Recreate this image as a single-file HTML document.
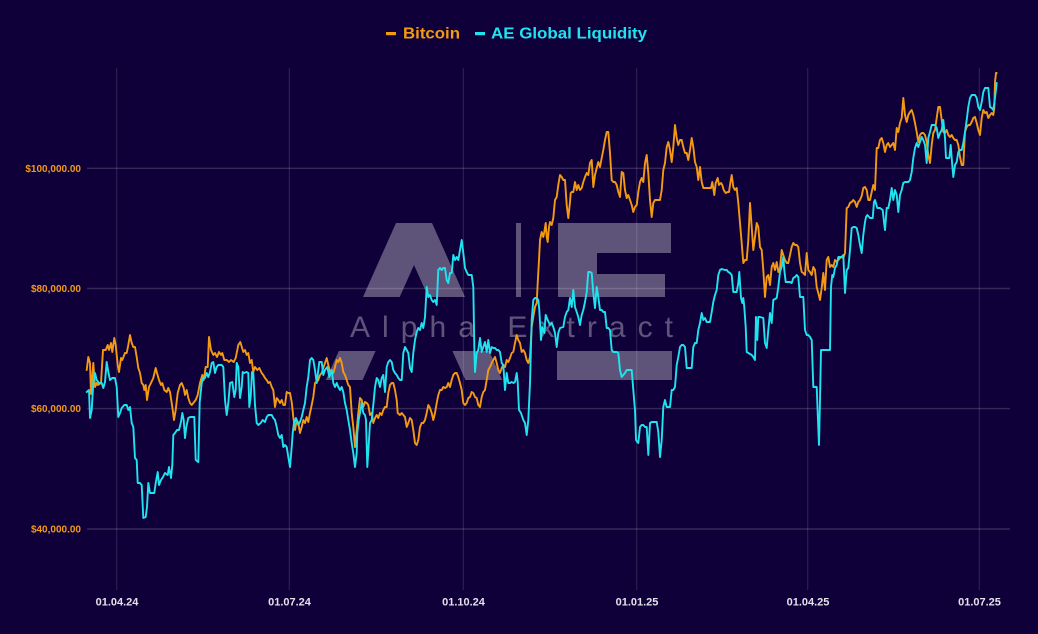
<!DOCTYPE html>
<html>
<head>
<meta charset="utf-8">
<style>
  html,body{margin:0;padding:0;background:#10003a;}
  body{width:1038px;height:634px;overflow:hidden;}
  svg{display:block;}
  text{font-family:"Liberation Sans",Arial,sans-serif;}
</style>
</head>
<body>
<svg width="1038" height="634" viewBox="0 0 1038 634" xmlns="http://www.w3.org/2000/svg">
  <rect x="0" y="0" width="1038" height="634" fill="#10003a"/>

  <!-- legend -->
  <rect x="386" y="32" width="10" height="3.2" fill="#f39a12"/>
  <text x="403" y="38.5" font-size="16" font-weight="bold" fill="#f39a12" textLength="57" lengthAdjust="spacingAndGlyphs">Bitcoin</text>
  <rect x="475" y="32" width="10" height="3.2" fill="#1fe3ef"/>
  <text x="491" y="38.5" font-size="16" font-weight="bold" fill="#1fe3ef" textLength="156" lengthAdjust="spacingAndGlyphs">AE Global Liquidity</text>

  <!-- grid -->
  <g stroke="#ffffff" stroke-opacity="0.16" stroke-width="1.4" fill="none">
    <line x1="87" y1="168.3" x2="1010" y2="168.3"/>
    <line x1="87" y1="288.5" x2="1010" y2="288.5"/>
    <line x1="87" y1="408.6" x2="1010" y2="408.6"/>
    <line x1="87" y1="529" x2="1010" y2="529"/>
  </g>
  <g stroke="#ffffff" stroke-opacity="0.13" stroke-width="1.1" fill="none">
    <line x1="116.7" y1="68" x2="116.7" y2="590"/>
    <line x1="289.3" y1="68" x2="289.3" y2="590"/>
    <line x1="463.3" y1="68" x2="463.3" y2="590"/>
    <line x1="636.7" y1="68" x2="636.7" y2="590"/>
    <line x1="807.7" y1="68" x2="807.7" y2="590"/>
    <line x1="979.3" y1="68" x2="979.3" y2="590"/>
  </g>

  <!-- y labels -->
  <g font-size="10" font-weight="bold" fill="#f39a12" text-anchor="end">
    <text x="81" y="171.8">$100,000.00</text>
    <text x="81" y="292">$80,000.00</text>
    <text x="81" y="412.1">$60,000.00</text>
    <text x="81" y="532.5">$40,000.00</text>
  </g>

  <!-- x labels -->
  <g font-size="11" font-weight="bold" fill="#e2e2ea" text-anchor="middle">
    <text x="117" y="605.5">01.04.24</text>
    <text x="289.5" y="605.5">01.07.24</text>
    <text x="463.5" y="605.5">01.10.24</text>
    <text x="637" y="605.5">01.01.25</text>
    <text x="808" y="605.5">01.04.25</text>
    <text x="979.5" y="605.5">01.07.25</text>
  </g>

  <!-- watermark -->
  <g fill="#ffffff" fill-opacity="0.33">
    <path fill-rule="evenodd" d="M363,297 L396,223 L432,223 L465,297 Z M399.7,297 L414,265 L428.3,297 Z"/>
    <path d="M338.8,351 L375.6,351 L362.6,380 L325.8,380 Z"/>
    <path d="M452.4,351 L489.2,351 L502.2,380 L465.4,380 Z"/>
    <rect x="516" y="223" width="5" height="74"/>
    <path d="M558,223 H671 V253 H597 V274 H665 V297 H558 Z"/>
    <rect x="557" y="351" width="115" height="29"/>
    <text x="350" y="337" font-size="30" textLength="323" lengthAdjust="spacing">Alpha Extract</text>
  </g>

  <!-- Bitcoin -->
  <polyline fill="none" stroke="#f39a12" stroke-width="1.9" stroke-linejoin="round" stroke-linecap="round" points="
86.7,370 88.3,357 90,363 91,394 93.3,363 95,387 96.7,383 98,385 101,383 103,350 105.7,350 107.7,345 109,350 111,343 112.3,352 114.3,338 115.7,345 117.7,365 119,372 121,358 122.3,360 125,353 126.7,353 128.3,345 130,335 131.7,343 133.3,347 135,347 136.7,357 138.3,368 140,373 141.7,383 143.3,385 144.3,390 145.7,385 147,400 149,387 151,383 153.3,378 155.7,368 157,373 159,380 161,385 162.3,383 164.3,390 166.7,392 168.3,388 170,392 172.3,407 174,420 175.7,410 177.7,393 180,385 181.7,383 183.7,388 185,395 186.7,390 188.3,398 190,403 191.7,405 193.3,403 195.7,400 197.7,395 200,383 202.3,375 203.7,380 205.7,367 207.7,367 209,337 211,350 213.3,355 215,353 217,357 219,352 221,355 222.3,353 224.3,360 226.7,360 229,362 231,360 233.7,362 235.7,358 238.3,345 240.3,342
243.3,352 245,350 246.7,355 248.3,353 250,363 251.7,360 253.3,372 255,367 257.3,370 259.3,368 261.7,373 263.3,375 265,378 266.7,380 268.3,383 270,382 271.7,387 273.3,390 275,407 276.7,398 278.3,400 280,403 281.7,400 283.3,405 285,405 286.7,392 288.3,393 290,393 291.7,402 293.3,417 295,430 296.7,420 298.3,423 300,433 301.7,427 303.3,420 305,423 306.7,417 308.3,422 310,413 311.7,405 313.3,397 315,383 316.7,382 318.3,380 320,375 321.7,373 323.3,368 325,363 326.7,358 328.3,365 330,372 331.7,372 333.3,373 335,367 336.7,360 338.3,362 340,358 341.7,363 343.3,372 345,375 346.7,380 348.3,385 350,387 351.7,413 353.3,427 355,447 356.7,430 358.3,413 360,398 361.7,400 363.3,407 365,402 366.7,403 368.3,405 370,415 371.7,413 373.3,423 375,418 376.7,415 378.3,418 380,413 381.7,415 383.3,410 385,407 386.7,407 388.3,393 390,385 391.7,383 393.3,383 395,390
396.7,400 397.7,413 400,415 401.7,413 403.3,415 405,417 406.7,427 408.3,423 410,418 411.7,420 413.3,430 415,443 416.7,445 418.3,440 420,427 421.7,423 423.3,423 425,420 426.7,413 428.3,405 430,408 431.7,413 433.3,420 435,413 436.7,403 438.3,395 440,390 441.7,390 443.3,387 445,388 446.7,387 448.3,383 450,387 451.7,380 453.3,375 455,373 456.7,373 458.3,377 460,383 461.7,390 463.3,403 465,405 466.7,403 468.3,398 470,397 471.7,392 473.3,393 475,397 476.7,398 478.3,405 480,407 481.7,397 483.3,392 485,390 486.7,380 488.3,370 490,367 491.7,363 493.3,360 495,357 496.7,363 498.3,370 500,373 501.7,368 503.3,365 505,367 506.7,360 508.3,362 510,358 511.7,353 513.3,352 515,343 516.7,335 518.3,340 520,343 521.7,352 523.3,350 525,353 526.7,360 528.3,363 530,357 531.7,327 533.3,317 535,307 536.7,303 537.7,283 539,260 540,240 541.7,232 543.3,237 544.3,232 545.7,223 546.7,237 547.7,242 549,227 550,222
551.7,225 553.3,218 555,200 556.7,197 558.3,185 560,175 561.7,177 563.3,180 565,180 566.7,205 568.3,218 570,202 570.7,193 571.7,192 573.3,192 575,182 576.7,190 578.3,185 580,190 581.7,188 583.3,182 585,177 586.7,173 588.3,175 590,163 591.7,160 593.3,187 595,175 596.7,168 598.3,162 600,167 601.7,158 603.3,150 605,140 606.7,132 608.3,132 610,153 611.7,180 613.3,182 615,182 616.7,185 618.3,192 620,197 621.7,172 623.3,173 625,190 626.7,198 628.3,195 630,200 631.7,205 633.3,212 635,207 636.7,205 638.3,192 640,182 641.7,178 643.3,182 645,163 646.7,155 648.3,173 650,200 651.7,217 653.3,203 655,200 656.7,200 658.3,200 660,200 661.7,190 663.3,170 665,163 666.7,147 668.3,142 670,150 671.7,162 673.3,147 675,125 676.7,138 678.3,145 680,140 681.7,140 683.3,147 685,153 686.7,153 688.3,160 690,150 691.7,138 693.3,147 695,162 696.7,167 698.3,180 700,167 701.7,182 703.3,188 706.7,188
711,188 712.3,182 714.3,195 715.7,183 717.7,178 719,185 721,183 722.3,185 723.7,190 725.7,193 727.7,192 729,192 730.3,183 731.7,175 733.3,187 735,190 736.7,188 738.3,203 740,223 741.7,243 743.3,263 745,260 746.7,260 748.3,240 750,203 751.7,227 753.3,250 755,237 756.7,223 758.3,227 760,247 761.7,250 763.3,270 765,297 766.7,277 768.3,275 770,285 771.7,267 773.3,263 775,270 776.7,262 778.3,272 780,268 781.7,250 783.3,255 785,260 786.7,263 788.3,263 790,255 791.7,247 793.3,243 795,245 796.7,245 798.3,247 800,263 801.7,272 803.3,273 805,275 806.7,253 808.3,270 810,272 811.7,275 813.3,267 815,270 816.7,287 818.3,293 820,300 821.7,288 823.3,273 825,290 826.7,260 828.3,257 830,267 831.7,265 833.3,267 835,260 836.7,262 838.3,260 840,258 841.7,257 843.3,258 845,253 846.7,208 848.3,207 850,203 851.7,202 853.3,200 855,202 856.7,207 858.3,202 860,200
861.7,196 863.3,188 865,187 866.7,190 868.3,200 870,200 871.7,192 873.3,185 875,190 876.7,148 878.3,148 880,140 881.7,138 883.3,143 885,152 886.7,145 888.3,143 890,147 891.7,145 893.3,143 895,150 896.7,128 898.3,132 900,123 901.7,118 903.3,98 905,115 906.7,122 908.3,115 910,112 911.7,110 913.3,115 915,123 916.7,132 918.3,142 920,135 921.7,133 923.3,133 925,135 926.7,142 928.3,155 930,163 931.7,145 933.3,133 935,130 936.7,118 938.3,107 940,107 941.7,120 943.3,132 945,133 946.7,130 948.3,135 950,137 951.7,135 953.3,138 955,140 956.7,140 958.3,145 960,157 961.7,165 963.3,165 965,132 966.7,127 968.3,125 970,125 971.7,122 973.3,118 975,117 976.7,123 978.3,130 980,135 981.7,118 983.3,110 985,113 986.7,112 988.3,118 990,115 991.7,113 993.3,115 994.3,108 995,82 996,73 996.7,73"/>

  <!-- AE Global Liquidity -->
  <polyline fill="none" stroke="#1fe3ef" stroke-width="1.9" stroke-linejoin="round" stroke-linecap="round" points="
86.7,392 89,390 90,418 91.7,410 93.3,383 95,373 96.7,380 99,383 101.7,383 103.3,388 105,382 106.7,362 108.3,372 110,380 112.3,378 115,378 116.7,387 118.3,417 120,413 121.7,408 124.3,405 126.7,405 128.3,410 130,407 131.7,423 133.3,427 135,458 136.7,460 137.7,483 140,483 141.7,485 143.3,518 145.7,517 147,507 148.3,483 150,493 154.3,493 155.7,483 157.7,472 159,485 161,480 163,477 165,473 167.7,475 169,467 171,478 172.3,465 173.3,435 175,433 177,430 179,430 181,422 182.3,413 183.7,420 185,438 186.3,427 188.3,418 190.3,417 192.3,417 194.3,417 195.7,460 198.3,462 199.7,402 201.7,383 203.3,378 205,378 206.7,373 208.3,377 210,372 211.7,363 213.3,362 215,373 216.7,367 218.3,365 221.7,365 223.3,367 225,400 226.7,415 228.3,403 230,383 232.3,382 234.3,397 235.7,390 236.7,363 238.3,367 240,398
241.7,387 242.7,372 244,373 246.7,372 248.3,373 249.3,407 250.7,397 252,372 253.3,373 255,405 256.7,423 258.3,425 260.7,423 262.7,420 265,422 266.7,417 268.3,415 271.7,415 273.3,418 275,420 276.7,427 278.3,435 280,438 281.7,435 283.3,447 285,445 286.7,447 288.3,457 290,467 291.7,447 292.7,433 294,423 296,418 297.3,422 298.3,425 300,422 301.7,417 303.3,410 305,403 306.7,387 308.3,377 310,360 311.7,358 313.3,360 315,370 316.7,383 318.3,370 319.3,362 321.7,362 323.3,375 325,370 327.3,367 329.3,377 331.7,370 333.3,383 335,387 336.7,383 338.3,387 340,390 341.7,387 343.3,392 345,403 346.7,410 348.3,420 350,430 351.7,443 353.3,453 355,467 356.7,453 357.3,433 358.7,420 360,413 361.7,403 363.3,413 365,415 366,420 367.3,467 368.7,445 370,423 371.7,420 373.3,405 375,387 376.7,378 378.3,380 380,387 381.7,378 383.3,375 385,392 386.7,367 388.3,362 390,360 391.7,362 393.3,370 395,373
396.7,375 398.3,378 400,380 401.7,380 403.3,353 405,347 406.7,350 408.3,353 410,368 411.7,372 413.3,353 415,340 416.7,332 418.3,328 420,330 421.7,323 423.3,328 425,317 426.7,287 428.3,297 430,295 431.7,300 433.3,302 435,300 436.7,305 438.3,270 440,268 441.7,270 443.3,268 445,268 446.7,280 448.3,283 450,273 451.7,273 453.3,255 455,260 456.7,257 458.3,260 460,250 461.7,240 463.3,253 465,268 466.7,272 468.3,275 470,275 471.7,275 473.3,287 474.3,347 475,372 476.7,353 478.3,350 480,338 481.7,352 483.3,347 485,342 486.7,352 488.3,340 490,353 491.7,347 493.3,348 495,348 496.7,350 498.3,350 500,352 501.7,363 503.3,365 505,390 506.7,373 508.3,383 510,383 511.7,382 513.3,383 515,382 516.7,373 517.7,382 519,410 521,413 523.3,420 525,423 526.7,435 528.3,420 530,383 531.7,320 533.3,300 535,298 536.7,298 538.3,300 539.3,310 541,340 542.3,327 544.3,333 545.7,315 547.7,320 550,325
551.7,323 553.3,327 555,333 556.7,347 558.3,333 560,328 563.3,327 565,317 566.7,312 568.3,310 570,298 571.7,307 573.3,290 575,307 576.7,312 578.3,317 580,325 581.7,315 583.3,310 585,302 586.7,292 588.3,272 590,272 591.7,273 593.3,293 595,308 596.7,287 598.3,297 600,310 601.7,310 603.3,312 605,312 606.7,328 608.3,328 610,330 611.7,350 613.3,352 616.7,352 618.3,353 620,370 621.7,377 623.3,375 625,373 626.7,370 630,370 631.7,370 633.3,390 635,410 636,440 637.3,442 638.3,443 640,427 641.7,425 643.3,425 645,427 646.7,427 648.3,455 650,423 651.7,422 655,422 656.7,422 658.3,432 660,457 661.7,440 663.3,407 665,400 666.7,407 670,407 671.7,390 673.3,390 675,387 676.7,365 678.3,357 680,347 681.7,345 683.3,345 685,347 686.7,368 691.7,368 693.3,347 695,343 696.7,343 698.3,330 700,323 701.7,313 703.3,320 705,318 706.7,322
710,322 711.7,312 713.3,302 715,295 716.7,290 718.3,275 720,270 721.7,269 725,270 726.7,270 728.3,272 730,273 731.7,275 733.3,292 736.7,292 738.3,283 739.3,272 741,298 742.3,303 743.3,298 744.3,307 745.7,327 746.7,352 751.7,355 753.3,357 755,360 756,317 757.3,340 758.3,317 760,317 763.3,318 765,343 766.7,348 768.3,330 770,313 771.7,323 773.3,300 776.7,298 778.3,287 780,272 781.7,267 783.3,257 784.3,270 785.7,282 790,282 791.7,283 793.3,278 795,277 796.7,275 798.3,277 800,297 803.3,297 805,330 806.7,335 808.3,335 810,337 811.7,340 813.3,387 816.7,387 817.7,413 819,445 820,400 821,350 823.3,350 830,350 831,287 832.3,275 833.3,277 835,268 836.7,265 838.3,257 841.7,257 843.3,255 845,293 846.7,270 848.3,268 850,250 851.7,228 853.3,227 855,227 856.7,228 858.3,235 860,245
861.7,253 863.3,235 865,222 866,217 867.3,215 870,218 872.7,218 874,202 875,200 877.3,208 880,208 882.7,210 884,222 885,230 886.7,208 888.3,208 890,200 891.7,188 893.3,200 895,190 896.7,195 898.3,212 900,195 901.7,190 903.3,183 905,182 908.3,182 910,180 911.7,172 913.3,158 915,148 916.7,143 918.3,147 920,142 921.7,137 923.3,140 925,145 926.7,163 928.3,138 930,132 931.7,125 935,125 936.7,128 938.3,138 940,133 941.7,130 943.3,120 945,138 946,158 949.3,158 950.7,145 952,162 953.3,177 955,165 956.7,162 958.3,152 960,150 961.7,150 963.3,143 965,132 966.7,120 968.3,107 970,98 971.7,95 975,95 976.7,98 978.3,107 980,110 981.7,102 983.3,92 985,88 988.3,88 990,107 991.7,108 993.3,110 995,98 996.7,83"/>
</svg>
</body>
</html>
